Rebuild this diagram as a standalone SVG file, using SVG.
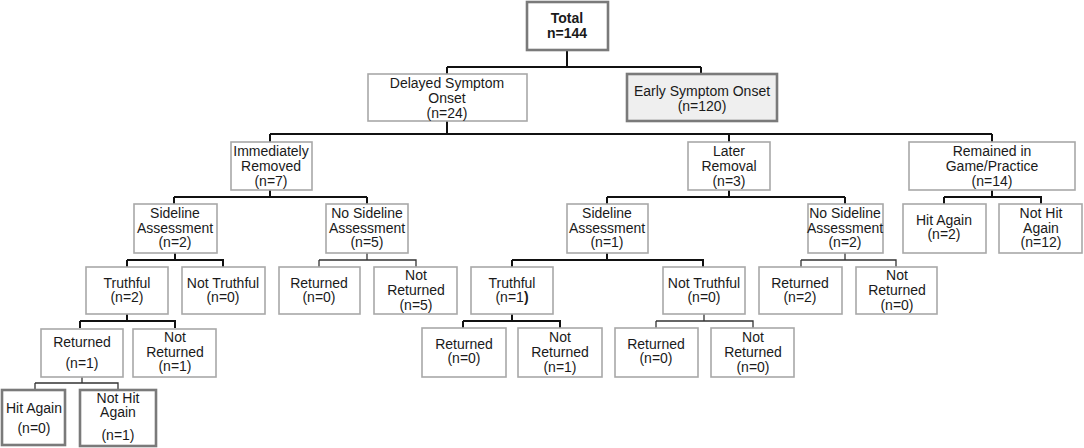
<svg xmlns="http://www.w3.org/2000/svg" width="1084" height="448" viewBox="0 0 1084 448">
<style>
.b{fill:#fff;stroke:#a8a8a8;stroke-width:1.6}
.k{fill:#fff;stroke:#7a7a7a;stroke-width:2.6}
.g{fill:#efefef;stroke:#7a7a7a;stroke-width:2.6}
text{font-family:"Liberation Sans",Arial,sans-serif;font-size:14px;fill:#1a1a1a;text-anchor:middle}
.bold{font-weight:bold}
.c{fill:none;stroke:#111;stroke-width:2}
.t{fill:none;stroke:#333;stroke-width:1.3}
</style>
<rect width="1084" height="448" fill="#fff"/>
<g id="connectors">
<path class="c" d="M567,50V67M447,67H701M447,67V74M701,67V74"/>
<path class="c" d="M447,121V134M270,134H992M270,134V142M729,134V142M992,134V142"/>
<path class="c" d="M270,190V197M174,197H367M174,197V204M367,197V204"/>
<path class="c" d="M729,190V197M607,197H845M607,197V204M845,197V204"/>
<path class="c" d="M992,190V197M944,197H1041V204M944,197V204"/>
<path class="c" d="M175,253V260M127,260H223V267M127,260V267"/>
<path class="c" d="M607,253V260M512,260H703V267M512,260V267"/>
<path class="c" d="M127,314V321M80,321H175V328M80,321V328"/>
<path class="c" d="M512,314V321M463,321H560V328M463,321V328"/>
<path class="t" d="M367,253V260M319,260H416V267M319,260V267"/>
<path class="t" d="M704,314V321M656,321H753V328M656,321V328"/>
<path class="t" d="M845,253V260M801,260H896V267M801,260V267"/>
<path class="t" d="M82,377V383M35,383H118V390M35,383V390"/>
</g>
<g id="total"><rect class="k" x="527" y="2" width="81" height="48"/><text class="bold" x="567" y="23">Total</text><text class="bold" x="567" y="38">n=144</text></g>
<g id="delayed"><rect class="b" x="368" y="74" width="159" height="47"/><text x="447" y="88">Delayed Symptom</text><text x="447" y="103">Onset</text><text x="447" y="118">(n=24)</text></g>
<g id="early"><rect class="g" x="627" y="74" width="150" height="47"/><text x="702" y="96">Early Symptom Onset</text><text x="702" y="111">(n=120)</text></g>
<g id="immediately"><rect class="b" x="231" y="142" width="81" height="48"/><text x="271" y="156">Immediately</text><text x="271" y="171">Removed</text><text x="271" y="186">(n=7)</text></g>
<g id="later"><rect class="b" x="688" y="142" width="82" height="48"/><text x="729" y="156">Later</text><text x="729" y="171">Removal</text><text x="729" y="186">(n=3)</text></g>
<g id="remained"><rect class="b" x="909" y="142" width="166" height="48"/><text x="992" y="156">Remained in</text><text x="992" y="171">Game/Practice</text><text x="992" y="186">(n=14)</text></g>
<g id="sideline2"><rect class="b" x="134" y="204" width="83" height="49"/><text x="175" y="218">Sideline</text><text x="175" y="233">Assessment</text><text x="175" y="247">(n=2)</text></g>
<g id="nosideline5"><rect class="b" x="326" y="204" width="82" height="49"/><text x="367" y="218">No Sideline</text><text x="367" y="233">Assessment</text><text x="367" y="247">(n=5)</text></g>
<g id="sideline1"><rect class="b" x="567" y="204" width="81" height="49"/><text x="607" y="218">Sideline</text><text x="607" y="233">Assessment</text><text x="607" y="247">(n=1)</text></g>
<g id="nosideline2"><rect class="b" x="808" y="204" width="75" height="49"/><text x="845" y="218">No Sideline</text><text x="845" y="233">Assessment</text><text x="845" y="247">(n=2)</text></g>
<g id="hitagain2"><rect class="b" x="903" y="204" width="83" height="49"/><text x="944" y="225">Hit Again</text><text x="944" y="239">(n=2)</text></g>
<g id="nothitagain12"><rect class="b" x="999" y="204" width="83" height="49"/><text x="1041" y="218">Not Hit</text><text x="1041" y="233">Again</text><text x="1041" y="247">(n=12)</text></g>
<g id="truthful2"><rect class="b" x="86" y="267" width="82" height="47"/><text x="127" y="288">Truthful</text><text x="127" y="302">(n=2)</text></g>
<g id="nottruthful0a"><rect class="b" x="182" y="267" width="83" height="47"/><text x="223" y="288">Not Truthful</text><text x="223" y="302">(n=0)</text></g>
<g id="returned0a"><rect class="b" x="279" y="267" width="81" height="47"/><text x="319" y="288">Returned</text><text x="319" y="302">(n=0)</text></g>
<g id="notreturned5"><rect class="b" x="374" y="267" width="83" height="47"/><text x="416" y="280">Not</text><text x="416" y="295">Returned</text><text x="416" y="310">(n=5)</text></g>
<g id="truthful1"><rect class="b" x="471" y="267" width="82" height="47"/><text x="512" y="288">Truthful</text><text x="512" y="302">(n=1<tspan class="bold">)</tspan></text></g>
<g id="nottruthful0b"><rect class="b" x="663" y="267" width="82" height="47"/><text x="704" y="288">Not Truthful</text><text x="704" y="302">(n=0)</text></g>
<g id="returned2"><rect class="b" x="759" y="267" width="83" height="47"/><text x="800" y="288">Returned</text><text x="800" y="302">(n=2)</text></g>
<g id="notreturned0a"><rect class="b" x="856" y="267" width="81" height="47"/><text x="897" y="280">Not</text><text x="897" y="295">Returned</text><text x="897" y="310">(n=0)</text></g>
<g id="returned1"><rect class="b" x="41" y="329" width="82" height="48"/><text x="82" y="347">Returned</text><text x="82" y="368">(n=1)</text></g>
<g id="notreturned1a"><rect class="b" x="133" y="329" width="83" height="48"/><text x="175" y="342">Not</text><text x="175" y="357">Returned</text><text x="175" y="371">(n=1)</text></g>
<g id="returned0b"><rect class="b" x="422" y="328" width="84" height="49"/><text x="464" y="349">Returned</text><text x="464" y="363">(n=0)</text></g>
<g id="notreturned1b"><rect class="b" x="518" y="328" width="84" height="49"/><text x="560" y="342">Not</text><text x="560" y="357">Returned</text><text x="560" y="372">(n=1)</text></g>
<g id="returned0c"><rect class="b" x="615" y="328" width="83" height="49"/><text x="656" y="349">Returned</text><text x="656" y="363">(n=0)</text></g>
<g id="notreturned0b"><rect class="b" x="711" y="328" width="83" height="49"/><text x="753" y="342">Not</text><text x="753" y="357">Returned</text><text x="753" y="372">(n=0)</text></g>
<g id="hitagain0"><rect class="k" x="2" y="390" width="63" height="55"/><text x="34" y="413">Hit Again</text><text x="34" y="433">(n=0)</text></g>
<g id="nothitagain1"><rect class="k" x="80" y="390" width="76" height="56"/><text x="118" y="403">Not Hit</text><text x="118" y="417">Again</text><text x="118" y="440">(n=1)</text></g>
</svg>
